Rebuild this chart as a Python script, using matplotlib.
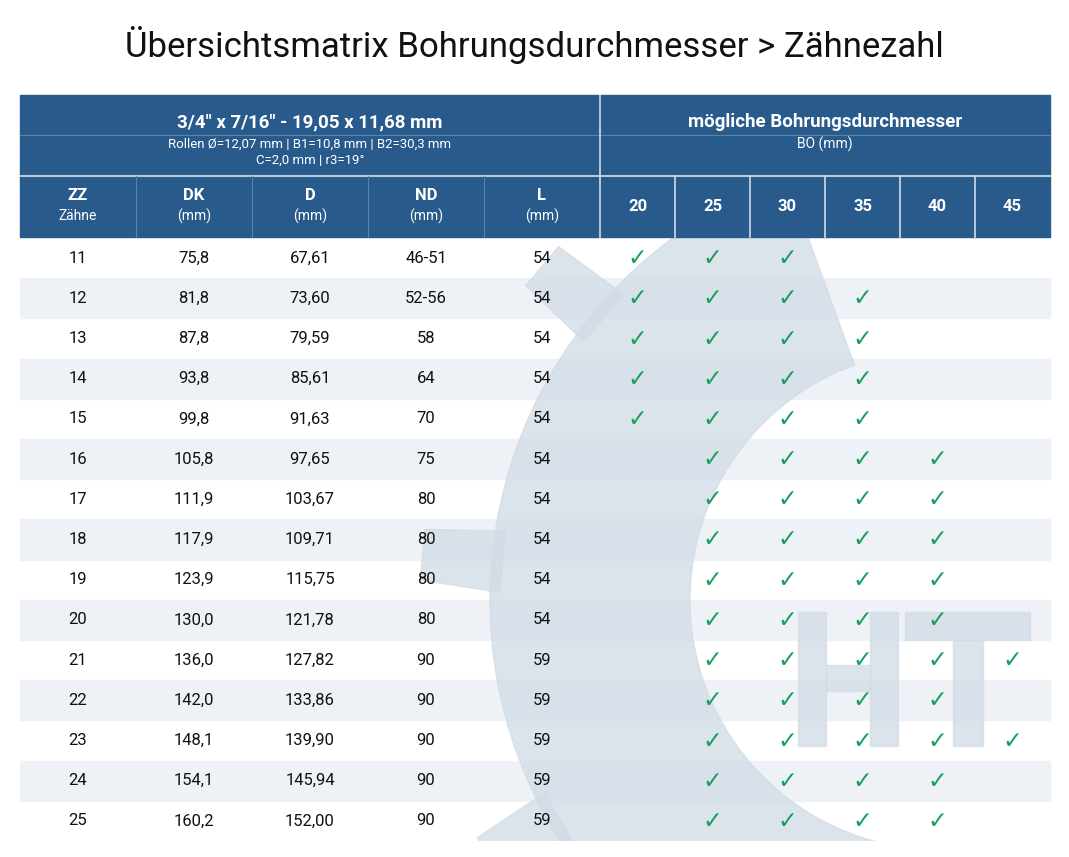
import numpy as np
import matplotlib.pyplot as plt
from matplotlib.patches import Rectangle, Wedge, Polygon

HEAD = '#285a8c'
LINE = '#5c82a8'
STRIPE = '#eef1f5'
CHECK = '#17a05d'
WM = '#d3dce6'

zz = [11, 12, 13, 14, 15, 16, 17, 18, 19, 20, 21, 22, 23, 24, 25]
dk = ['75,8', '81,8', '87,8', '93,8', '99,8', '105,8', '111,9', '117,9', '123,9',
      '130,0', '136,0', '142,0', '148,1', '154,1', '160,2']
d = ['67,61', '73,60', '79,59', '85,61', '91,63', '97,65', '103,67', '109,71',
     '115,75', '121,78', '127,82', '133,86', '139,90', '145,94', '152,00']
nd = ['46-51', '52-56', '58', '64', '70', '75', '80', '80', '80', '80',
      '90', '90', '90', '90', '90']
ll = ['54'] * 10 + ['59'] * 5
bores = [20, 25, 30, 35, 40, 45]
checks = [[20, 25, 30], [20, 25, 30, 35], [20, 25, 30, 35], [20, 25, 30, 35],
          [20, 25, 30, 35], [25, 30, 35, 40], [25, 30, 35, 40], [25, 30, 35, 40],
          [25, 30, 35, 40], [25, 30, 35, 40], [25, 30, 35, 40, 45],
          [25, 30, 35, 40], [25, 30, 35, 40, 45], [25, 30, 35, 40], [25, 30, 35, 40]]

W, H = 1069, 857
fig = plt.figure(figsize=(W / 100, H / 100), dpi=100)
ax = fig.add_axes([0, 0, 1, 1])
ax.set_xlim(0, W)
ax.set_ylim(H, 0)
ax.axis('off')
plt.rcParams['font.family'] = ['Roboto', 'DejaVu Sans']

L, R = 20, 1050
xs = [20, 136, 252, 368, 484, 600, 675, 750, 825, 900, 975, 1050]
y0, rh = 238, 40.2
ybot = y0 + len(zz) * rh

# stripes
for i in range(len(zz)):
    if i % 2 == 1:
        ax.add_patch(Rectangle((L, y0 + i * rh), R - L, rh, color=STRIPE, zorder=1))

# watermark gear (clipped to table body)
clip = Rectangle((L, y0), R - L, ybot - y0, transform=ax.transData, visible=False)
ax.add_patch(clip)
cx0, cy0 = 940, 600
wm = [Wedge((cx0, cy0), 450, 90, 250, width=200, color=WM, alpha=0.8, zorder=2)]
for ang in [105, 140, 175, 210]:
    a = np.deg2rad(ang)
    r1, r2, hw = 440, 520, 0.07
    pts = [(cx0 + r1 * np.cos(a - hw), cy0 - r1 * np.sin(a - hw)),
           (cx0 + r2 * np.cos(a - hw * 0.7), cy0 - r2 * np.sin(a - hw * 0.7)),
           (cx0 + r2 * np.cos(a + hw * 0.7), cy0 - r2 * np.sin(a + hw * 0.7)),
           (cx0 + r1 * np.cos(a + hw), cy0 - r1 * np.sin(a + hw))]
    wm.append(Polygon(pts, color=WM, alpha=0.8, zorder=2))
# "HT" letters as shapes
for (x, y, w, h) in [(798, 612, 28, 134), (870, 612, 28, 134), (826, 665, 44, 26),
                     (905, 612, 125, 28), (953, 640, 30, 106)]:
    wm.append(Rectangle((x, y), w, h, color=WM, alpha=0.8, zorder=2))
for p in wm:
    ax.add_patch(p)
    p.set_clip_path(clip)

# header background
ax.add_patch(Rectangle((L, 95), R - L, 142, color=HEAD, zorder=3))
ax.plot([L, R], [176, 176], color='#b8c8d8', lw=1.5, zorder=4)
ax.plot([L, R], [135, 135], color=LINE, lw=0.8, zorder=4)
ax.plot([600, 600], [95, 237], color='#d0dbe6', lw=1.2, zorder=4)
for x in xs[1:5]:
    ax.plot([x, x], [176, 237], color=LINE, lw=0.8, zorder=4)
for x in xs[6:-1]:
    ax.plot([x, x], [176, 237], color='#d0dbe6', lw=1.2, zorder=4)

ax.text(534, 45, 'Übersichtsmatrix Bohrungsdurchmesser > Zähnezahl', fontsize=25,
        ha='center', va='center', color='#111111', zorder=5)
ax.text(310, 122, '3/4" x 7/16" - 19,05 x 11,68 mm', fontsize=13.5, fontweight='bold',
        ha='center', va='center', color='white', zorder=5)
ax.text(310, 144, 'Rollen Ø=12,07 mm | B1=10,8 mm | B2=30,3 mm', fontsize=9.5,
        ha='center', va='center', color='white', zorder=5)
ax.text(310, 160, 'C=2,0 mm | r3=19°', fontsize=9.5,
        ha='center', va='center', color='white', zorder=5)
ax.text(825, 122, 'mögliche Bohrungsdurchmesser', fontsize=13.5, fontweight='bold',
        ha='center', va='center', color='white', zorder=5)
ax.text(825, 144, 'BO (mm)', fontsize=10, ha='center', va='center', color='white', zorder=5)

heads = [('ZZ', 'Zähne'), ('DK', '(mm)'), ('D', '(mm)'), ('ND', '(mm)'), ('L', '(mm)')]
for k, (a, b) in enumerate(heads):
    cx = (xs[k] + xs[k + 1]) / 2
    ax.text(cx, 195, a, fontsize=12, fontweight='bold', ha='center', va='center',
            color='white', zorder=5)
    ax.text(cx, 216, b, fontsize=10, ha='center', va='center', color='white', zorder=5)
for k, b in enumerate(bores):
    cx = (xs[5 + k] + xs[6 + k]) / 2
    ax.text(cx, 206, str(b), fontsize=12, fontweight='bold', ha='center', va='center',
            color='white', zorder=5)

for i in range(len(zz)):
    cy = y0 + (i + 0.5) * rh
    vals = [str(zz[i]), dk[i], d[i], nd[i], ll[i]]
    for k, v in enumerate(vals):
        cx = (xs[k] + xs[k + 1]) / 2
        ax.text(cx, cy, v, fontsize=12, ha='center', va='center', color='#111111', zorder=5)
    for b in checks[i]:
        k = bores.index(b)
        cx = (xs[5 + k] + xs[6 + k]) / 2
        ax.text(cx, cy, '✓', fontsize=17, ha='center', va='center', color=CHECK,
                family='DejaVu Sans', zorder=5)

fig.savefig('out.png', dpi=100, facecolor='white')
